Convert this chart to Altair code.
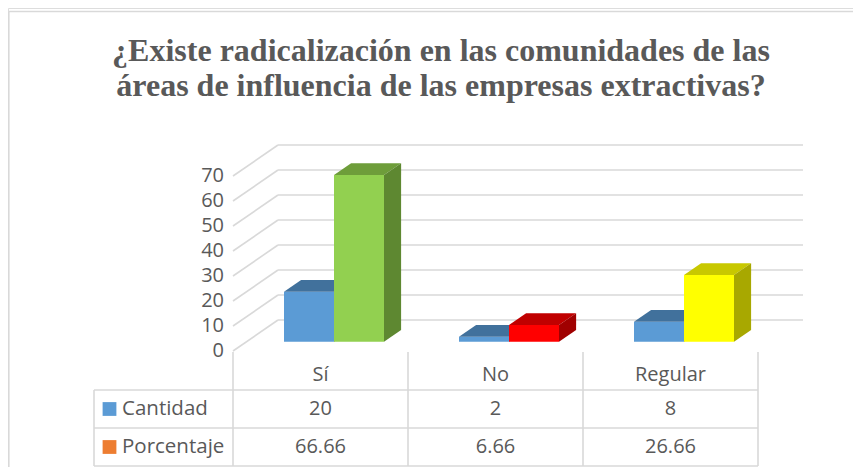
import altair as alt
import pandas as pd

# ---------------- data ----------------
title_lines = ["¿Existe radicalización en las comunidades de las",
               "áreas de influencia de las empresas extractivas?"]
categories = ["Sí", "No", "Regular"]
series = ["Cantidad", "Porcentaje"]
cantidad = [20, 2, 8]
porcentaje = [66.66, 6.66, 26.66]
cantidad_labels = ["20", "2", "8"]
porcentaje_labels = ["66.66", "6.66", "26.66"]
y_ticks = [0, 10, 20, 30, 40, 50, 60, 70]

# ---------------- styles ----------------
front_colors = [["#5B9BD5", "#5B9BD5", "#5B9BD5"], ["#92D050", "#FF0000", "#FFFF00"]]
top_colors = [["#41719C", "#41719C", "#41719C"], ["#6E9D3A", "#C00000", "#C8C800"]]
side_colors = [["#3A6690", "#3A6690", "#3A6690"], ["#5E8831", "#A00000", "#A8A800"]]
legend_colors = ["#5B9BD5", "#ED7D31"]
TEXT = "#595959"
GRID = "#D9D9D9"
FONT = "Open Sans"

# layout: 1 x-unit = one category (175 px), 1 y-unit = 2.5 px
PXX, PXY = 175.0, 2.5
W, H = 845, 459
X0_PX, Y0_PX = 225.0, 343.0          # pixel position of (0, 0) inside the view
WALL_DX = 45 / PXX
WALL_DY = 31 / PXY
FB, FD = 0.30, 0.38
BAR_W = 50 / PXX

x_scale = alt.Scale(domain=[-X0_PX / PXX, (W - X0_PX) / PXX], nice=False, zero=False)
y_scale = alt.Scale(domain=[(Y0_PX - H) / PXY, Y0_PX / PXY], nice=False, zero=False)

def X(f="x"):
    return alt.X(f"{f}:Q", scale=x_scale, axis=None)

def Y(f="y"):
    return alt.Y(f"{f}:Q", scale=y_scale, axis=None)

# ---- outer frame (top and left edges)
top_v = (Y0_PX - 3.5) / PXY
left_u = (0.8 - X0_PX) / PXX
frame_df = pd.DataFrame({"x": [left_u, left_u], "x2": [W / PXX, left_u],
                         "y": [top_v, top_v], "y2": [top_v, (Y0_PX - H) / PXY]})
frame = alt.Chart(frame_df).mark_rule(color=GRID, strokeWidth=1.6).encode(
    x=X("x"), x2="x2:Q", y=Y("y"), y2="y2:Q")

# ---- title
title_df = pd.DataFrame({"t": title_lines, "x": 208 / PXX, "y": [116.0, 102.0]})
title = alt.Chart(title_df).mark_text(
    align="center", baseline="alphabetic", font="Liberation Serif", fontSize=32,
    fontWeight="bold", color=TEXT).encode(x=X("x"), y=Y("y"), text="t:N")

# ---- gridlines (back wall + left wall diagonals)
grid_df = pd.DataFrame({"v": y_ticks})
grid_df["x"] = WALL_DX
grid_df["x2"] = len(categories) + WALL_DX
grid_df["yb"] = grid_df["v"] + WALL_DY
back = alt.Chart(grid_df).mark_rule(color=GRID, strokeWidth=1.6).encode(
    x=X("x"), x2="x2:Q", y=Y("yb"))
diag_df = pd.DataFrame({"x": 0.0, "v": y_ticks})
diag_df["x2"] = WALL_DX
diag_df["y2"] = diag_df["v"] + WALL_DY
diag = alt.Chart(diag_df).mark_rule(color=GRID, strokeWidth=1.6).encode(
    x=X("x"), x2="x2:Q", y=Y("v"), y2="y2:Q")
ylabels = alt.Chart(pd.DataFrame({"x": 0.0, "v": y_ticks, "t": [str(t) for t in y_ticks]})).mark_text(
    align="right", baseline="middle", dx=-9, font=FONT, fontSize=20, color=TEXT).encode(
    x=X("x"), y=Y("v"), text="t:N")

# ---- 3D bars
bar_layers = []
base = FB * WALL_DY
ddx, ddy = FD * WALL_DX, FD * WALL_DY
for s, vals in enumerate([cantidad, porcentaje]):
    rows = {"front": [], "top": [], "side": []}
    for i, val in enumerate(vals):
        x0 = i + 0.5 + FB * WALL_DX - BAR_W + s * BAR_W
        x1 = x0 + BAR_W
        top = base + val
        bid = f"{s}-{i}"
        rows["front"] += [(bid, x0, base, top, front_colors[s][i]),
                          (bid, x1, base, top, front_colors[s][i])]
        rows["top"] += [(bid, x0, top, top, top_colors[s][i]),
                        (bid, x0 + ddx, top, top + ddy, top_colors[s][i]),
                        (bid, x1, top, top + ddy, top_colors[s][i]),
                        (bid, x1 + ddx, top + ddy, top + ddy, top_colors[s][i])]
        rows["side"] += [(bid, x1, base, top, side_colors[s][i]),
                         (bid, x1 + ddx, base + ddy, top + ddy, side_colors[s][i])]
    for face in ["front", "top", "side"]:
        df = pd.DataFrame(rows[face], columns=["id", "x", "y", "y2", "c"])
        bar_layers.append(alt.Chart(df).mark_area(opacity=1, interpolate="linear").encode(
            x=X("x"), y=Y("y"), y2="y2:Q", detail="id:N",
            color=alt.Color("c:N", scale=None)))

# ---- data table
n = len(categories)
row_edges = [-15.6, -30.8, -46.0]
left_edge = -139 / PXX
hlines = pd.DataFrame({"y": row_edges, "x": left_edge, "x2": float(n)})
hrule = alt.Chart(hlines).mark_rule(color=GRID, strokeWidth=1.6).encode(
    x=X("x"), x2="x2:Q", y=Y("y"))
vl = [(float(k), -0.4, row_edges[-1]) for k in range(n + 1)] + [(left_edge, row_edges[0], row_edges[-1])]
vlines = pd.DataFrame(vl, columns=["x", "y", "y2"])
vrule = alt.Chart(vlines).mark_rule(color=GRID, strokeWidth=1.6).encode(
    x=X("x"), y=Y("y"), y2="y2:Q")

cells = []
for i, c in enumerate(categories):
    cells.append((i + 0.5, -9.6, c))
    cells.append((i + 0.5, -23.2, cantidad_labels[i]))
    cells.append((i + 0.5, -38.4, porcentaje_labels[i]))
cell_df = pd.DataFrame(cells, columns=["x", "y", "t"])
cell_text = alt.Chart(cell_df).mark_text(
    align="center", baseline="middle", font=FONT, fontSize=20, color=TEXT).encode(
    x=X("x"), y=Y("y"), text="t:N")

leg_df = pd.DataFrame({"s": series, "y": [-23.2, -38.4], "c": legend_colors})
leg_df["xs"] = -123.5 / PXX
leg_df["xt"] = -111 / PXX
leg_sq = alt.Chart(leg_df).mark_square(size=190, opacity=1).encode(
    x=X("xs"), y=Y("y"), color=alt.Color("c:N", scale=None))
leg_txt = alt.Chart(leg_df).mark_text(
    align="left", baseline="middle", font=FONT, fontSize=20.5, color=TEXT).encode(
    x=X("xt"), y=Y("y"), text="s:N")

chart = alt.layer(frame, title, back, diag, ylabels, *bar_layers, hrule, vrule,
                  cell_text, leg_sq, leg_txt).properties(
    width=W, height=H,
    padding=0,
    autosize=alt.AutoSizeParams(type="none"),
).configure_view(stroke=None).configure(background="white")

chart.save("out.html", embed_options={"renderer": "svg", "actions": False})
